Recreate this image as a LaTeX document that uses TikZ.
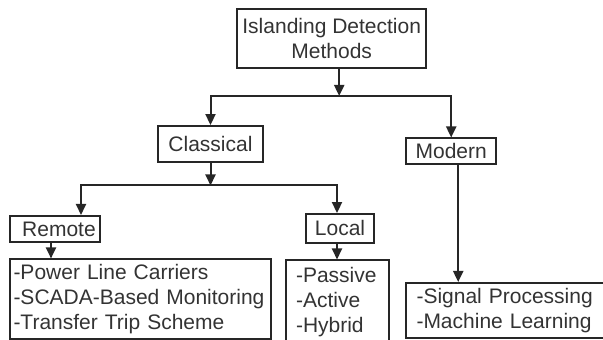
\documentclass[tikz,border=0pt]{standalone}
\usepackage{fontspec}
\setmainfont{Liberation Sans}
\usepackage{tikz}
\usetikzlibrary{arrows.meta}

\begin{document}
\begin{tikzpicture}[x=0.5pt, y=-0.5pt,
		box/.style={draw=black!85, line width=1pt, inner sep=0pt, text=black!80,
			font=\fontsize{10.5}{12.5}\selectfont},
		listbox/.style={box, align=left},
		link/.style={draw=black!85, line width=1pt},
		arr/.style={link, -{Triangle[width=5pt, length=5.5pt]}}]
			%%%%% START %%%%%
			\useasboundingbox (0, 0) rectangle (603, 340);
			
			\node[box, align=center, minimum width=94.5pt, minimum height=29.5pt] (top) at (331.7, 38.7) {Islanding Detection\\Methods};
			
			\node[box, minimum width=52.5pt, minimum height=17.75pt] (classical) at (210.5, 143.8) {Classical};
			\node[box, minimum width=45.25pt, minimum height=13pt] (modern) at (451.2, 151.5) {Modern};
			
			\node[box, minimum width=45pt, minimum height=13pt] (remote) at (55, 229) {\hspace{4pt}Remote};
			\node[box, minimum width=34pt, minimum height=14.35pt] (local) at (340, 228.4) {Local};
			
			\node[listbox, inner xsep=2pt, text width=126.5pt, minimum height=39.75pt] (rlist) at (140, 299.2)
				{-Power Line Carriers\\-SCADA-Based Monitoring\\-Transfer Trip Scheme};
			\node[listbox, inner xsep=5.25pt, text width=41pt, minimum height=41.5pt] (llist) at (337, 302)
				{-Passive\\-Active\\-Hybrid};
			\node[listbox, inner xsep=5.3pt, text width=89.4pt, minimum height=27.5pt] (mlist) at (505.9, 310.5)
				{-Signal Processing\\-Machine Learning};
			
			% first split
			\coordinate (j1) at (339.2, 96);
			\draw[arr] (top.south -| j1) -- (j1);
			\draw[arr] (j1) -| (classical);
			\draw[arr] (j1) -| (modern);
			
			% second split
			\coordinate (j2) at (210.5, 185.5);
			\draw[arr] (classical) -- (j2);
			\draw[arr] (j2) -| ([xshift=13pt]remote.north);
			\draw[arr] (j2) -| (llist.north |- local.north);
			
			% down to the lists
			\draw[arr] ([xshift=-2pt]remote.south) -- ([xshift=-2pt]remote.south |- rlist.north);
			\draw[arr] (llist.north |- local.south) -- (llist);
			\draw[arr] ([xshift=3.5pt]modern.south) -- ([xshift=3.5pt]modern.south |- mlist.north);
			%%%%% END %%%%%
		\end{tikzpicture}
\end{document}
